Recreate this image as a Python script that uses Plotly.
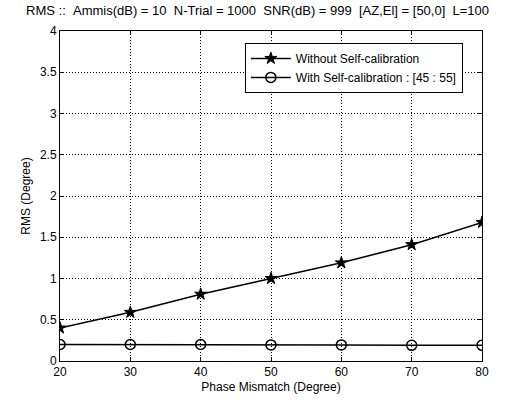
import plotly.graph_objects as go

phase = [20, 30, 40, 50, 60, 70, 80]
rms_without = [0.40, 0.59, 0.81, 1.00, 1.19, 1.41, 1.68]
rms_with = [0.20, 0.20, 0.20, 0.195, 0.195, 0.19, 0.19]

title_text = "RMS :: &nbsp;Ammis(dB) = 10 &nbsp;N-Trial = 1000 &nbsp;SNR(dB) = 999 &nbsp;[AZ,El] = [50,0] &nbsp;L=100"

font = dict(family="Liberation Sans, Arial, sans-serif", size=12, color="black")

fig = go.Figure()
fig.add_trace(go.Scatter(
    x=phase, y=rms_without, mode="lines+markers", name="Without Self-calibration",
    line=dict(color="black", width=1.5),
    marker=dict(symbol="star", size=9, color="black", line=dict(color="black", width=1))))
fig.add_trace(go.Scatter(
    x=phase, y=rms_with, mode="lines+markers", name="With Self-calibration : [45 : 55]",
    line=dict(color="black", width=1.5),
    marker=dict(symbol="circle-open", size=10, color="black", line=dict(color="black", width=1.5))))

axis_common = dict(
    showline=True, linecolor="black", linewidth=1, mirror="ticks",
    ticks="inside", ticklen=4, tickcolor="black",
    showgrid=True, gridcolor="black", gridwidth=1, griddash="1px,2px",
    zeroline=False, tickfont=font, automargin=False,
)

fig.update_layout(
    width=510, height=400,
    margin=dict(l=60, r=28, t=31, b=39),
    paper_bgcolor="white", plot_bgcolor="white",
    font=font,
    title=dict(text=title_text, x=0.505, xanchor="center", y=0.985, yanchor="top",
               font=dict(family="Liberation Sans, Arial, sans-serif", size=13, color="black")),
    xaxis=dict(range=[20, 80], dtick=10, tick0=20,
               title=dict(text="Phase Mismatch (Degree)", font=font, standoff=4), **axis_common),
    yaxis=dict(range=[0, 4], dtick=0.5, tick0=0,
               title=dict(text="RMS (Degree)", font=font, standoff=6), **axis_common),
    legend=dict(x=0.438, y=0.964, xanchor="left", yanchor="top",
                bgcolor="white", bordercolor="black", borderwidth=1,
                font=font, tracegroupgap=0, itemwidth=40),
    showlegend=True,
)

fig.write_html("out.html")
